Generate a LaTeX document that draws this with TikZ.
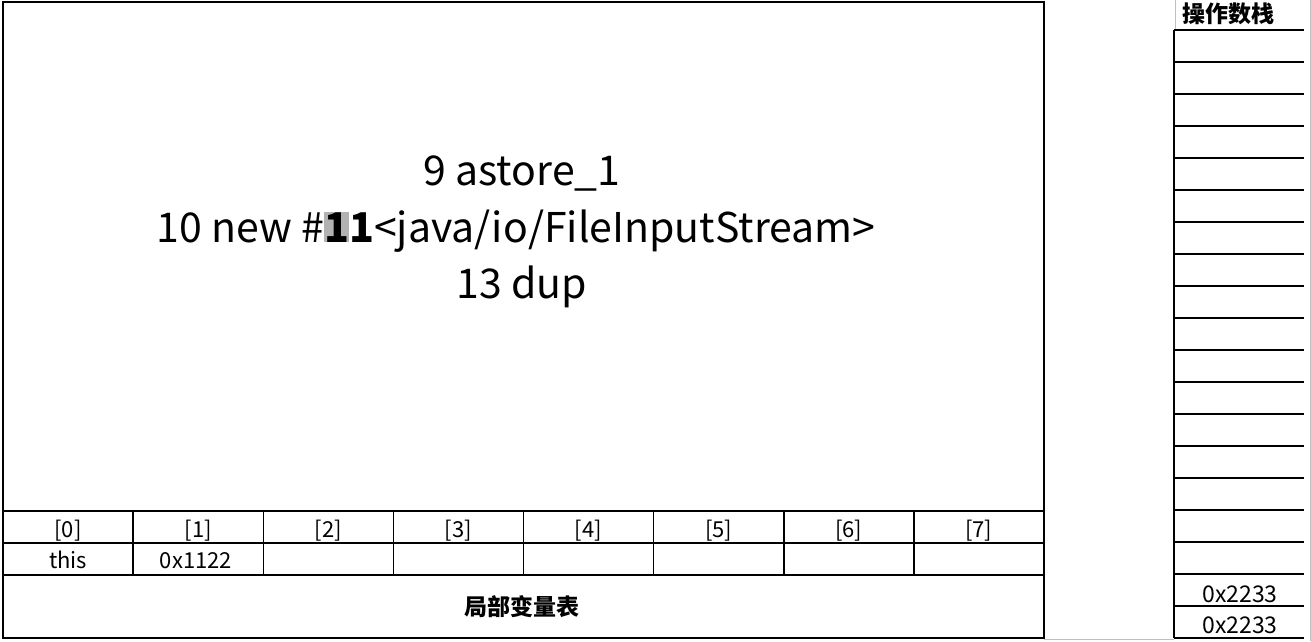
\documentclass[tikz,border=0pt]{standalone}
\usepackage{fontspec}
\setmainfont{Noto Sans CJK SC}
\tikzset{
  code/.style={anchor=base, inner sep=0pt, font=\fontsize{41}{48}\selectfont},
  cell/.style={anchor=base, inner sep=0pt, font=\fontsize{22}{26}\selectfont},
  stackval/.style={anchor=base, inner sep=0pt, font=\fontsize{23}{27}\selectfont},
  caption/.style={inner sep=0pt, font=\fontsize{23}{28}\selectfont\bfseries},
  grid/.style={line width=1.5pt},
  frame/.style={line width=2pt},
  sheet/.style={black!25, line width=1pt}
}
% 选中高亮的字符
\newcommand{\hlchar}[1]{\setbox0\hbox{#1}\rlap{\textcolor{black!30}{\rule{\wd0}{0.73em}}}\box0\relax}

\begin{document}
\begin{tikzpicture}[x=1pt,y=-1pt]
\useasboundingbox (0,0) rectangle (1311,641);
% 表格底纹线
\draw[sheet] (1310,0) -- (1310,641);
\draw[sheet] (1044,639) -- (1174,639);
\draw[sheet] (1175,0) -- (1175,30);
% 栈帧外框
\draw[frame] (3,2) rectangle (1044,638);
% 字节码
\node[code] (ins9) at (522,185) {9 astore\_1};
\node[code] (ins10) at (516,242) {10 new \#\textbf{\hlchar{1}1}<java/io/FileInputStream>};
\node[code] (ins13) at (522,298) {13 dup};
% 局部变量表
\draw[grid] (3,511) -- (1044,511);
\draw[grid] (3,543) -- (1044,543);
\draw[grid] (3,575) -- (1044,575);
\foreach \i in {1,...,7}
  \draw[grid] (3+130.125*\i,511) -- (3+130.125*\i,575);
\foreach \i in {0,...,7}
  \node[cell] (idx\i) at (68+130.125*\i,537) {[\i]};
\node[cell] (slot0) at (68,568) {this};
\node[cell] (slot1) at (196,568) {0x1122};
\node[caption] (lvt) at (522,607) {局部变量表};
% 操作数栈
\node[caption] (ostack) at (1228,14) {操作数栈};
\draw[frame] (1174,30) -- (1174,638);
\foreach \k in {0,...,19}
  \draw[frame] (1174,30+32*\k) -- (1304,30+32*\k);
\node[stackval] (top1) at (1240,602) {0x2233};
\node[stackval] (top0) at (1240,633) {0x2233};
\end{tikzpicture}
\end{document}
